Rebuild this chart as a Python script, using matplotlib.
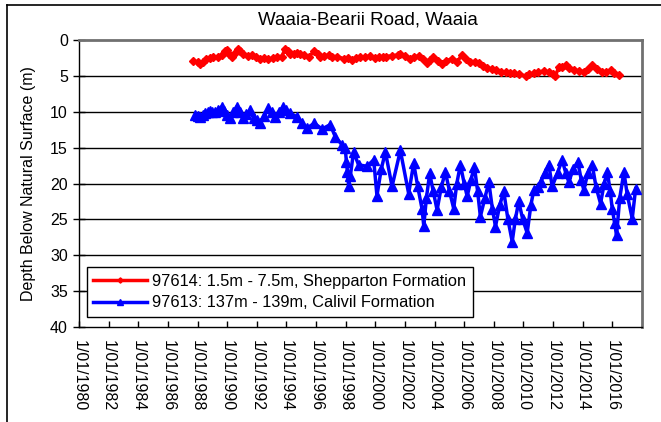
import matplotlib
matplotlib.use("Agg")
import matplotlib.pyplot as plt
from matplotlib.lines import Line2D

plt.rcParams['font.family'] = ['Liberation Sans', 'DejaVu Sans']

title = "Waaia-Bearii Road, Waaia"
ylabel = "Depth Below Natural Surface (m)"
red_label = "97614: 1.5m - 7.5m, Shepparton Formation"
blue_label = "97613: 137m - 139m, Calivil Formation"
tick_years = list(range(1980, 2017, 2))
tick_labels = [f"1/01/{y}" for y in tick_years]

red_years = [1987.7, 1988.0, 1988.2, 1988.4, 1988.6, 1988.85, 1989.07, 1989.35, 1989.64, 1989.85,
             1989.98, 1990.15, 1990.32, 1990.5, 1990.7, 1990.9, 1991.1, 1991.4, 1991.67, 1991.95,
             1992.23, 1992.5, 1992.79, 1993.1, 1993.36, 1993.69, 1993.92, 1994.1, 1994.26, 1994.5,
             1994.71, 1994.95, 1995.16, 1995.5, 1995.88, 1996.1, 1996.28, 1996.55, 1996.85, 1997.1,
             1997.41, 1997.86, 1998.15, 1998.43, 1998.7, 1998.99, 1999.3, 1999.66, 1999.96, 2000.22,
             2000.5, 2000.73, 2001.1, 2001.5, 2001.69, 2002.0, 2002.36, 2002.6, 2002.93, 2003.2,
             2003.49, 2003.7, 2003.9, 2004.2, 2004.5, 2004.8, 2005.18, 2005.52, 2005.86, 2006.1,
             2006.42, 2006.7, 2006.98, 2007.3, 2007.55, 2007.9, 2008.15, 2008.45, 2008.8, 2009.1,
             2009.35, 2009.7, 2010.14, 2010.4, 2010.7, 2011.0, 2011.37, 2011.7, 2012.0, 2012.16,
             2012.39, 2012.6, 2012.84, 2013.1, 2013.4, 2013.75, 2014.08, 2014.35, 2014.64, 2014.95,
             2015.32, 2015.6, 2015.88, 2016.1, 2016.44]
red_depth = [2.9, 3.1, 3.3, 3.0, 2.6, 2.5, 2.3, 2.4, 2.1, 1.6,
             1.4, 1.9, 2.3, 1.8, 1.2, 1.5, 1.9, 2.2, 2.1, 2.4,
             2.6, 2.5, 2.7, 2.5, 2.3, 2.3, 1.2, 1.6, 1.9, 1.9,
             1.8, 2.0, 2.1, 2.3, 1.6, 2.0, 2.3, 2.2, 2.1, 2.3,
             2.3, 2.6, 2.5, 2.8, 2.5, 2.3, 2.4, 2.2, 2.5, 2.3,
             2.4, 2.3, 2.2, 2.1, 1.9, 2.2, 2.6, 2.4, 2.2, 2.7,
             3.2, 2.8, 2.3, 2.9, 3.3, 2.9, 2.6, 3.0, 2.1, 2.6,
             3.0, 3.0, 3.2, 3.6, 3.9, 4.1, 4.2, 4.4, 4.5, 4.6,
             4.6, 4.8, 5.0, 4.8, 4.6, 4.5, 4.3, 4.5, 4.8, 5.0,
             3.7, 3.8, 3.5, 3.9, 4.2, 4.3, 4.4, 4.0, 3.5, 4.1,
             4.5, 4.4, 4.2, 4.6, 4.9]

blue_years = [1987.84, 1988.0, 1988.18, 1988.35, 1988.51, 1988.7, 1988.85, 1989.0, 1989.19, 1989.4,
              1989.64, 1989.8, 1989.98, 1990.2, 1990.4, 1990.65, 1990.9, 1991.1, 1991.3, 1991.55,
              1991.78, 1992.0, 1992.23, 1992.5, 1992.79, 1993.0, 1993.24, 1993.5, 1993.8, 1994.0,
              1994.26, 1994.71, 1995.05, 1995.38, 1995.88, 1996.4, 1996.96, 1997.3, 1997.75, 1997.97,
              1998.05, 1998.12, 1998.2, 1998.31, 1998.53, 1998.87, 1999.44, 1999.89, 2000.11, 2000.4,
              2000.68, 2001.13, 2001.69, 2002.25, 2002.59, 2002.86, 2003.15, 2003.27, 2003.45, 2003.67,
              2003.9, 2004.17, 2004.45, 2004.73, 2005.0, 2005.29, 2005.5, 2005.74, 2006.0, 2006.2,
              2006.45, 2006.69, 2006.9, 2007.09, 2007.4, 2007.66, 2007.9, 2008.11, 2008.4, 2008.67,
              2008.95, 2009.24, 2009.45, 2009.68, 2009.95, 2010.25, 2010.5, 2010.7, 2010.95, 2011.15,
              2011.45, 2011.71, 2011.94, 2012.3, 2012.61, 2012.85, 2013.06, 2013.35, 2013.67, 2013.9,
              2014.07, 2014.35, 2014.64, 2014.9, 2015.2, 2015.45, 2015.66, 2015.85, 2015.99, 2016.15,
              2016.28, 2016.5, 2016.78, 2017.0, 2017.34, 2017.57]
blue_depth = [10.4, 10.6, 10.7, 10.5, 10.2, 10.0, 9.9, 10.1, 10.0, 9.7,
              9.3, 9.9, 10.4, 10.9, 10.1, 9.3, 10.1, 10.9, 10.3, 9.8,
              10.9, 11.2, 11.6, 10.6, 9.5, 10.1, 10.7, 10.0, 9.3, 9.8,
              10.2, 10.7, 11.5, 12.3, 11.6, 12.4, 11.8, 13.5, 14.6, 15.1,
              17.0, 18.4, 20.4, 19.0, 15.6, 17.4, 17.6, 16.7, 21.7, 18.0,
              15.6, 20.4, 15.4, 21.4, 17.2, 20.4, 23.5, 25.9, 22.0, 18.6,
              21.0, 23.7, 20.5, 18.4, 21.0, 23.5, 20.0, 17.4, 20.0, 21.8,
              19.5, 17.7, 21.0, 24.6, 22.0, 19.8, 23.5, 26.0, 23.0, 21.1,
              25.0, 28.1, 25.0, 22.5, 25.0, 26.9, 23.0, 20.9, 20.5, 19.8,
              18.5, 17.4, 20.4, 18.5, 16.7, 18.5, 19.8, 18.0, 17.0, 19.5,
              20.9, 18.5, 17.4, 20.5, 22.8, 20.0, 18.4, 21.0, 23.5, 25.5,
              27.2, 22.0, 18.4, 21.5, 24.9, 20.7]

W, H = 661, 422
fig = plt.figure(figsize=(W / 100, H / 100), dpi=100)
fig.patch.set_facecolor('white')

L, R, T, B = 79, 642, 40, 327
ax = fig.add_axes([L / W, 1 - B / H, (R - L) / W, (B - T) / H])

ax.plot(red_years, red_depth, color='#ff0000', lw=2.5, marker='D', ms=4.5,
        mec='#ff0000', mfc='#ff0000', label=red_label, zorder=3)
ax.plot(blue_years, blue_depth, color='#0000ff', lw=2.5, marker='^', ms=6.5,
        mec='#0000ff', mfc='#0000ff', label=blue_label, zorder=3)

ax.set_xlim(1980, 2018)
ax.set_ylim(40, 0)
ax.set_yticks(range(0, 41, 5))
ax.set_xticks(tick_years)
ax.set_xticklabels(tick_labels, rotation=-90, fontsize=11.5)
ax.tick_params(axis='y', labelsize=11.5, direction='inout', length=8, width=1, pad=4)
ax.tick_params(axis='x', direction='in', length=4, width=1, pad=9)
for lab in ax.get_xticklabels():
    lab.set_verticalalignment('top')
    lab.set_horizontalalignment('center')

for v in range(5, 40, 5):
    ax.axhline(v, color='black', lw=1, zorder=1)

for s in ['left', 'bottom']:
    ax.spines[s].set_color('black')
    ax.spines[s].set_linewidth(1)
for s in ['top', 'right']:
    ax.spines[s].set_color('#707070')
    ax.spines[s].set_linewidth(2)

ax.set_ylabel(ylabel, fontsize=11.5, labelpad=10)
fig.text(0.5 * (L + R) / W + 0.012, 1 - 20 / H, title, ha='center', va='center', fontsize=13.5)

leg = ax.legend(loc='lower left', bbox_to_anchor=(0.0137, 0.035), fontsize=11.8,
                frameon=True, fancybox=False, framealpha=1, edgecolor='black',
                handlelength=3.3, handletextpad=0.3, labelspacing=0.4, borderpad=0.4,
                borderaxespad=0, markerscale=0.6)
leg.get_frame().set_linewidth(1)

# outer chart-area frame (only top and left visible)
fig.add_artist(Line2D([7 / W, 7 / W], [0, 1 - 5 / H], color='black', lw=1.2))
fig.add_artist(Line2D([7 / W, 1], [1 - 5 / H, 1 - 5 / H], color='black', lw=1.2))

fig.savefig('out.png', dpi=100)
